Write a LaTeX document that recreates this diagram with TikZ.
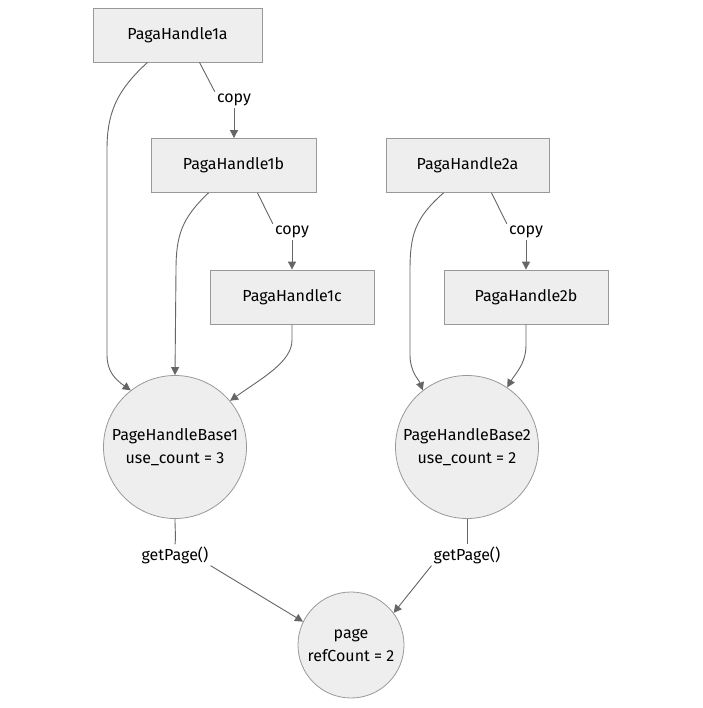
\documentclass[tikz,border=0pt]{standalone}
\usepackage{fontspec}
\setmainfont{Fira Sans}
\usetikzlibrary{calc,arrows.meta}
\definecolor{nodefill}{HTML}{EEEEEE}
\definecolor{nodeline}{HTML}{999999}
\definecolor{edgeline}{HTML}{666666}
\tikzset{
  box/.style={draw=nodeline,fill=nodefill,line width=0.8pt,minimum width=164pt,minimum height=54pt,inner sep=0pt,font=\fontsize{16}{19}\selectfont},
  circ/.style={draw=nodeline,fill=nodefill,line width=0.8pt,circle,inner sep=0pt,align=center,font=\fontsize{16}{23}\selectfont},
  lbl/.style={inner sep=2pt,font=\fontsize{16}{19}\selectfont},
  edge/.style={draw=edgeline,line width=0.9pt},
  arr/.style={edge,-{Triangle[length=8pt,width=8pt]}},
}
\begin{document}
\begin{tikzpicture}[x=1pt,y=-1pt]
\useasboundingbox[fill=white] (0,0) rectangle (702,708);
\node[box,minimum width=169pt] (P1a) at (177.5,35) {PagaHandle1a};
\node[box,minimum width=165pt] (P1b) at (233.5,165.5) {PagaHandle1b};
\node[box] (P1c) at (292,297) {PagaHandle1c};
\node[box,minimum width=163pt] (P2a) at (467.5,165.5) {PagaHandle2a};
\node[box] (P2b) at (526,297) {PagaHandle2b};
\node[circ,minimum size=143pt] (B1) at (175,447) {PageHandleBase1\\use\_count = 3};
\node[circ,minimum size=143pt] (B2) at (467,447) {PageHandleBase2\\use\_count = 2};
\node[circ,minimum size=106pt] (pg) at (351,645) {page\\refCount = 2};
\node[lbl] (c1) at (234,100) {copy};
\node[lbl] (c2) at (292,232) {copy};
\node[lbl] (c3) at (526,232) {copy};
\node[lbl] (g1) at (175,555) {getPage()};
\node[lbl] (g2) at (467,555) {getPage()};
% copy edges
\draw[edge] ($(P1a.south)+(22,0)$) -- (c1.north west);
\draw[arr] (c1) -- (P1b.north -| c1);
\draw[edge] ($(P1b.south)+(24,0)$) -- (c2.north west);
\draw[arr] (c2) -- (P1c.north -| c2);
\draw[edge] ($(P2a.south)+(24,0)$) -- (c3.north west);
\draw[arr] (c3) -- (P2b.north -| c3);
% to bases
\draw[arr] ($(P1a.south)+(-30,0)$) .. controls (115,92) and (107,115) .. (107,150) -- (107,355) .. controls (107,372) and (116,380) .. (B1.128);
\draw[arr] ($(P1b.south)+(-25,0)$) .. controls (182,218) and (176,235) .. (176,270) -- (B1.north);
\draw[arr] (P1c.south) -- (292,340) .. controls (292,362) and (262,378) .. (B1.40);
\draw[arr] ($(P2a.south)+(-24,0)$) .. controls (415,218) and (410,235) .. (410,270) -- (410,355) .. controls (410,372) and (419,380) .. (B2.128);
\draw[arr] (P2b.south) -- (526,345) .. controls (526,364) and (515,374) .. (B2.56);
% getPage
\draw[edge] (B1.south) .. controls (175,530) and (176,538) .. (g1.north);
\draw[arr] (g1.south east) -- (pg.154);
\draw[edge] (B2.south) -- (g2.north);
\draw[arr] (g2.south west) -- (pg.37);
\end{tikzpicture}
\end{document}
